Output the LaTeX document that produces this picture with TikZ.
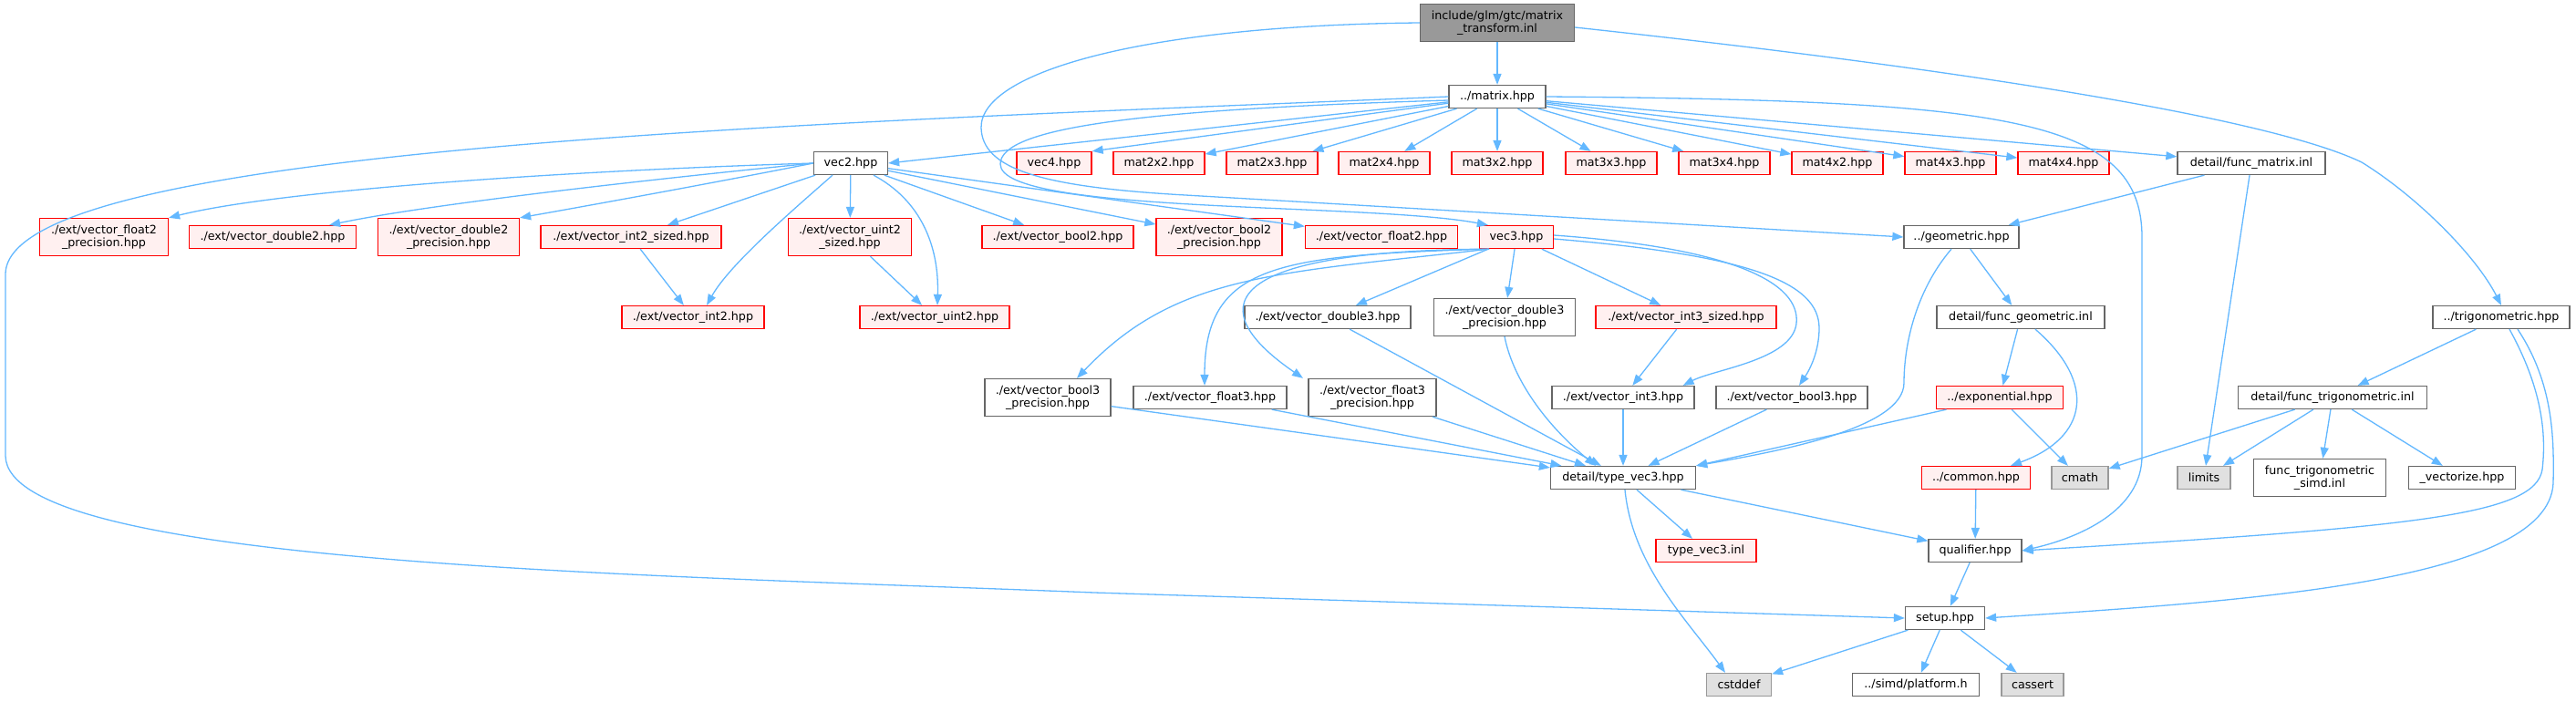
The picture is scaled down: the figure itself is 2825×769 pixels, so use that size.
\documentclass[tikz,border=0pt]{standalone}
\usepackage{fontspec}
\setmainfont{DejaVu Sans}
\usepackage{tikz}
\usetikzlibrary{arrows.meta}
\definecolor{edgeblue}{HTML}{63B8FF}
\definecolor{nodegray}{HTML}{666666}
\definecolor{truncfill}{HTML}{FFF0F0}
\definecolor{sysdraw}{HTML}{999999}
\definecolor{sysfill}{HTML}{E0E0E0}
\definecolor{rootfill}{HTML}{999999}

\begin{document}
\begin{tikzpicture}[x=1pt, y=-1pt, >={Triangle[length=12pt,width=9pt]},
  font=\fontsize{12.7}{14.6}\selectfont,
  n/.style={draw=nodegray, fill=white, line width=1.3pt, align=center, inner sep=0pt, minimum height=25pt},
  trunc/.style={n, draw=red, fill=truncfill},
  sys/.style={n, draw=sysdraw, fill=sysfill},
  rootn/.style={n, draw=nodegray, fill=rootfill},
  tall/.style={minimum height=41pt},
  dep/.style={->, draw=edgeblue, line width=1.3pt}]
\fill[white] (0,0) rectangle (2825,769);
% top
\node[rootn, tall, minimum width=169pt] (root) at (1642,25) {include/glm/gtc/matrix\\\_transform.inl};
\node[n, minimum width=106pt] (matrix) at (1642,106) {../matrix.hpp};
% row of matrix includes
\node[n, minimum width=81pt] (vec2) at (933,179) {vec2.hpp};
\node[trunc, minimum width=82pt] (vec4) at (1156,179) {vec4.hpp};
\node[trunc, minimum width=100pt] (mat2x2) at (1271,179) {mat2x2.hpp};
\node[trunc, minimum width=100pt] (mat2x3) at (1395,179) {mat2x3.hpp};
\node[trunc, minimum width=100pt] (mat2x4) at (1518,179) {mat2x4.hpp};
\node[trunc, minimum width=100pt] (mat3x2) at (1642,179) {mat3x2.hpp};
\node[trunc, minimum width=100pt] (mat3x3) at (1767,179) {mat3x3.hpp};
\node[trunc, minimum width=100pt] (mat3x4) at (1891,179) {mat3x4.hpp};
\node[trunc, minimum width=100pt] (mat4x2) at (2015,179) {mat4x2.hpp};
\node[trunc, minimum width=100pt] (mat4x3) at (2139,179) {mat4x3.hpp};
\node[trunc, minimum width=100pt] (mat4x4) at (2263,179) {mat4x4.hpp};
\node[n, minimum width=162pt] (funcm) at (2469,179) {detail/func\_matrix.inl};
% vec2 includes, vec3, geometric
\node[trunc, tall, minimum width=141pt] (f2p) at (114,260) {./ext/vector\_float2\\\_precision.hpp};
\node[trunc, minimum width=183pt] (d2) at (299,260) {./ext/vector\_double2.hpp};
\node[trunc, tall, minimum width=155pt] (d2p) at (492,260) {./ext/vector\_double2\\\_precision.hpp};
\node[trunc, minimum width=198pt] (i2s) at (692,260) {./ext/vector\_int2\_sized.hpp};
\node[trunc, tall, minimum width=135pt] (u2s) at (932,260) {./ext/vector\_uint2\\\_sized.hpp};
\node[trunc, minimum width=166pt] (b2) at (1160,260) {./ext/vector\_bool2.hpp};
\node[trunc, tall, minimum width=138pt] (b2p) at (1337,260) {./ext/vector\_bool2\\\_precision.hpp};
\node[trunc, minimum width=167pt] (f2) at (1515,260) {./ext/vector\_float2.hpp};
\node[trunc, minimum width=81pt] (vec3) at (1663,260) {vec3.hpp};
\node[n, minimum width=126pt] (geom) at (2151,260) {../geometric.hpp};
% next row
\node[trunc, minimum width=156pt] (i2) at (760,348) {./ext/vector\_int2.hpp};
\node[trunc, minimum width=164pt] (u2) at (1025,348) {./ext/vector\_uint2.hpp};
\node[n, minimum width=182pt] (d3) at (1456,348) {./ext/vector\_double3.hpp};
\node[n, tall, minimum width=155pt] (d3p) at (1650,348) {./ext/vector\_double3\\\_precision.hpp};
\node[trunc, minimum width=198pt] (i3s) at (1849,348) {./ext/vector\_int3\_sized.hpp};
\node[n, minimum width=184pt] (fgeom) at (2216,348) {detail/func\_geometric.inl};
\node[n, minimum width=150pt] (trig) at (2743,348) {../trigonometric.hpp};
% vec3 includes
\node[n, tall, minimum width=138pt] (b3p) at (1149,436) {./ext/vector\_bool3\\\_precision.hpp};
\node[n, minimum width=168pt] (f3) at (1327,436) {./ext/vector\_float3.hpp};
\node[n, tall, minimum width=140pt] (f3p) at (1505,436) {./ext/vector\_float3\\\_precision.hpp};
\node[n, minimum width=156pt] (i3) at (1780,436) {./ext/vector\_int3.hpp};
\node[n, minimum width=166pt] (b3) at (1965,436) {./ext/vector\_bool3.hpp};
\node[trunc, minimum width=139pt] (expo) at (2193,436) {../exponential.hpp};
\node[n, minimum width=207pt] (ftrig) at (2558,436) {detail/func\_trigonometric.inl};
% lower rows
\node[n, minimum width=159pt] (tv3) at (1780,524) {detail/type\_vec3.hpp};
\node[trunc, minimum width=119pt] (common) at (2167,524) {../common.hpp};
\node[sys, minimum width=62pt] (cmath) at (2281,524) {cmath};
\node[sys, minimum width=58pt] (limits) at (2417,524) {limits};
\node[n, tall, minimum width=145pt] (simd) at (2544,524) {func\_trigonometric\\\_simd.inl};
\node[n, minimum width=117pt] (vect) at (2700,524) {\_vectorize.hpp};
\node[trunc, minimum width=110pt] (tv3inl) at (1871,604) {type\_vec3.inl};
\node[n, minimum width=102pt] (qual) at (2166,604) {qualifier.hpp};
\node[n, minimum width=87pt] (setup) at (2133,678) {setup.hpp};
\node[sys, minimum width=71pt] (cstddef) at (1907,751) {cstddef};
\node[n, minimum width=139pt] (platform) at (2101,751) {../simd/platform.h};
\node[sys, minimum width=68pt] (cassert) at (2229,751) {cassert};
% root edges
\draw[dep] (root) -- (matrix);
\draw[dep] (root.west) .. controls (1250,28) and (1075,80) .. (1076,140) .. controls (1077,185) and (1140,205) .. (1300,214) -- (geom.west);
\draw[dep] ([yshift=-5pt]root.east) .. controls (2100,70) and (2480,125) .. (2590,178) .. controls (2650,215) and (2715,280) .. (trig.north);
% matrix edges
\draw[dep] (matrix) -- (vec2.east);
\draw[dep] (matrix) -- (vec4.north east);
\draw[dep] (matrix) -- (mat2x2);
\draw[dep] (matrix) -- (mat2x3);
\draw[dep] (matrix) -- (mat2x4);
\draw[dep] (matrix) -- (mat3x2);
\draw[dep] (matrix) -- (mat3x3);
\draw[dep] (matrix) -- (mat3x4);
\draw[dep] (matrix) -- (mat4x2);
\draw[dep] (matrix) -- (mat4x3);
\draw[dep] (matrix) -- (mat4x4);
\draw[dep] (matrix) -- (funcm);
\draw[dep] (matrix.east) .. controls (2200,110) and (2349,130) .. (2349,260) -- (2349,500) .. controls (2349,560) and (2280,590) .. (qual.east);
\draw[dep] (matrix.west) .. controls (900,135) and (10,160) .. (6,300) -- (6,500) .. controls (8,620) and (700,630) .. (1200,650) -- (setup.west);
\draw[dep] ([yshift=-4pt]matrix.west) .. controls (1250,120) and (1097,140) .. (1097,180) .. controls (1097,235) and (1500,222) .. ([xshift=10pt]vec3.north west);
% vec2 edges
\draw[dep] (vec2.west) .. controls (600,188) and (300,210) .. (f2p.north east);
\draw[dep] (vec2.west) .. controls (750,193) and (480,222) .. ([xshift=-30pt]d2.north east);
\draw[dep] (vec2.west) .. controls (760,205) and (620,230) .. (d2p.north east);
\draw[dep] (vec2) -- ([xshift=40pt]i2s.north);
\draw[dep] ([xshift=-20pt]vec2.south) .. controls (870,230) and (800,290) .. ([xshift=15pt]i2.north);
\draw[dep] (vec2) -- (u2s);
\draw[dep] ([xshift=25pt]vec2.south) .. controls (1010,220) and (1030,270) .. ([xshift=3pt]u2.north);
\draw[dep] (vec2) -- (b2);
\draw[dep] (vec2) -- (b2p);
\draw[dep] (vec2) -- (f2);
\draw[dep] (i2s) -- (i2);
\draw[dep] (u2s) -- (u2);
% vec3 edges
\draw[dep] (vec3) -- (d3);
\draw[dep] (vec3) -- (d3p);
\draw[dep] (vec3) -- (i3s);
\draw[dep] ([yshift=2pt]vec3.east) .. controls (1900,272) and (1975,310) .. (1970,355) .. controls (1965,395) and (1880,405) .. ([xshift=-13pt]i3.north east);
\draw[dep] ([yshift=-2pt]vec3.east) .. controls (1920,280) and (1995,310) .. (1995,360) .. controls (1995,385) and (1985,405) .. ([xshift=8pt]b3.north);
\draw[dep] ([xshift=-30pt]vec3.south) .. controls (1400,300) and (1290,300) .. ([xshift=32pt]b3p.north);
\draw[dep] ([xshift=-30pt]vec3.south) .. controls (1400,280) and (1321,290) .. ([xshift=-6pt]f3.north);
\draw[dep] ([xshift=-30pt]vec3.south) .. controls (1330,275) and (1320,340) .. ([xshift=-76pt]f3p.north);
\draw[dep] (i3s) -- (i3);
% into detail/type_vec3.hpp
\draw[dep] (b3p) -- (tv3);
\draw[dep] (f3) -- (tv3);
\draw[dep] (f3p) -- (tv3);
\draw[dep] (d3) -- (tv3);
\draw[dep] (d3p.south) .. controls (1660,420) and (1700,470) .. ([xshift=-30pt]tv3.north);
\draw[dep] (i3) -- (tv3);
\draw[dep] (b3) -- (tv3);
\draw[dep] ([xshift=-11pt]geom.south) .. controls (2100,320) and (2088,380) .. (2088,420) .. controls (2088,470) and (1950,495) .. (tv3.north east);
\draw[dep] (expo) -- (tv3.north east);
% geometric, matrix and trigonometric details
\draw[dep] (funcm) -- (geom);
\draw[dep] (funcm) -- (limits);
\draw[dep] (geom) -- (fgeom);
\draw[dep] (fgeom) -- (expo);
\draw[dep] ([xshift=16pt]fgeom.south) .. controls (2300,420) and (2290,480) .. ([xshift=38pt]common.north);
\draw[dep] (expo) -- (cmath);
\draw[dep] (trig) -- (ftrig);
\draw[dep] ([xshift=9pt]trig.south) .. controls (2790,430) and (2792,480) .. (2788,515) .. controls (2780,565) and (2650,578) .. (qual.east);
\draw[dep] ([xshift=18pt]trig.south) .. controls (2800,420) and (2801,480) .. (2800,530) .. controls (2795,640) and (2450,660) .. (setup.east);
\draw[dep] (ftrig) -- (cmath);
\draw[dep] (ftrig) -- (limits);
\draw[dep] (ftrig) -- (simd);
\draw[dep] (ftrig) -- (vect);
% bottom
\draw[dep] (common) -- (qual);
\draw[dep] (tv3) -- (qual);
\draw[dep] (tv3) -- (tv3inl);
\draw[dep] ([xshift=2pt]tv3.south) .. controls (1790,620) and (1850,680) .. ([xshift=-15pt]cstddef.north);
\draw[dep] (qual) -- (setup);
\draw[dep] (setup) -- (cstddef);
\draw[dep] (setup) -- (platform);
\draw[dep] (setup) -- (cassert);
\end{tikzpicture}
\end{document}
